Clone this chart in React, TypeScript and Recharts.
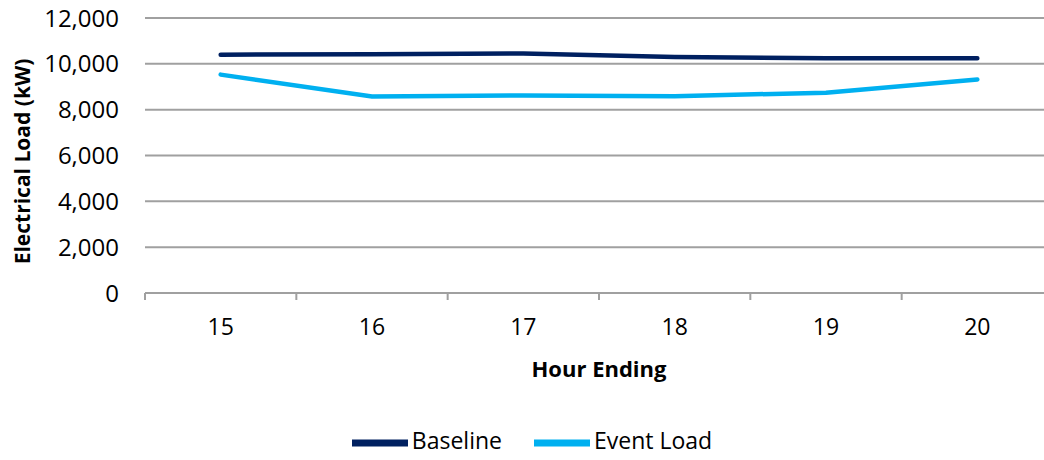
import { LineChart, Line, XAxis, YAxis, CartesianGrid, Legend } from "recharts";

const hours = [15, 16, 17, 18, 19, 20];
const baseline = [10400, 10420, 10450, 10300, 10240, 10240];
const eventLoad = [9530, 8580, 8620, 8590, 8740, 9320];
const yTicks = [0, 2000, 4000, 6000, 8000, 10000, 12000];
const boundaryTicks = [14.5, 15.5, 16.5, 17.5, 18.5, 19.5, 20.5];

const data = hours.map((h, i) => ({
  hour: h,
  Baseline: baseline[i],
  "Event Load": eventLoad[i],
}));

const FONT = "'Open Sans', sans-serif";
const GRID = "#a0a0a0";

// rotated axis title, centred on the plot height
const YTitle = ({ viewBox }: any) => {
  const x = viewBox.x + 22;
  const y = viewBox.y + viewBox.height / 2 + 6;
  return (
    <text
      x={x}
      y={y}
      transform={`rotate(-90, ${x}, ${y})`}
      textAnchor="middle"
      dominantBaseline="central"
      fill="#000"
      fontSize={21}
      fontWeight="bold"
      fontFamily={FONT}
    >
      Electrical Load (kW)
    </text>
  );
};

export default function App() {
  return (
    <div
      style={{
        position: "absolute",
        left: 0,
        top: 0,
        width: 1044,
        height: 460,
        overflow: "hidden",
        background: "#fff",
        fontFamily: FONT,
      }}
    >
      <LineChart
        width={1060}
        height={460}
        data={data}
        margin={{ top: 18, right: 7, left: 0, bottom: 0 }}
      >
        <CartesianGrid vertical={false} stroke={GRID} strokeWidth={2} />
        {/* tick marks between categories, like the original; default id so it sits next to the plot */}
        <XAxis
          dataKey="hour"
          type="number"
          domain={[14.5, 20.5]}
          ticks={boundaryTicks}
          interval={0}
          tick={{ fontSize: 1, fill: "transparent" }}
          tickFormatter={() => ""}
          tickLine={{ stroke: GRID, strokeWidth: 2 }}
          tickSize={7}
          height={1}
          stroke={GRID}
          strokeWidth={2}
        />
        <XAxis
          xAxisId="labels"
          dataKey="hour"
          type="number"
          domain={[14.5, 20.5]}
          ticks={hours}
          interval={0}
          tickLine={false}
          axisLine={false}
          height={110}
          tickMargin={19}
          tick={{ fill: "#000", fontSize: 23, fontFamily: FONT }}
          label={{
            value: "Hour Ending",
            position: "insideTop",
            offset: 67,
            fill: "#000",
            fontSize: 22,
            fontWeight: "bold",
            fontFamily: FONT,
          }}
        />
        <YAxis
          width={145}
          domain={[0, 12000]}
          ticks={yTicks}
          tickLine={false}
          axisLine={false}
          tickMargin={20}
          tickFormatter={(v: number) => v.toLocaleString("en-US")}
          tick={{ fill: "#000", fontSize: 24, fontFamily: FONT }}
          label={<YTitle />}
        />
        <Legend
          verticalAlign="bottom"
          iconType="plainline"
          iconSize={56}
          wrapperStyle={{
            fontSize: 23,
            fontFamily: FONT,
            color: "#000",
            left: 0,
            width: 1060,
            bottom: -11,
            paddingLeft: 18,
          }}
          formatter={(value: string) => (
            <span style={{ color: "#000", marginRight: 22 }}>{value}</span>
          )}
        />
        <Line
          dataKey="Baseline"
          stroke="#002060"
          strokeWidth={4.5}
          strokeLinecap="round"
          dot={false}
          isAnimationActive={false}
        />
        <Line
          dataKey="Event Load"
          stroke="#00b0f0"
          strokeWidth={4.5}
          strokeLinecap="round"
          dot={false}
          isAnimationActive={false}
        />
      </LineChart>
    </div>
  );
}
